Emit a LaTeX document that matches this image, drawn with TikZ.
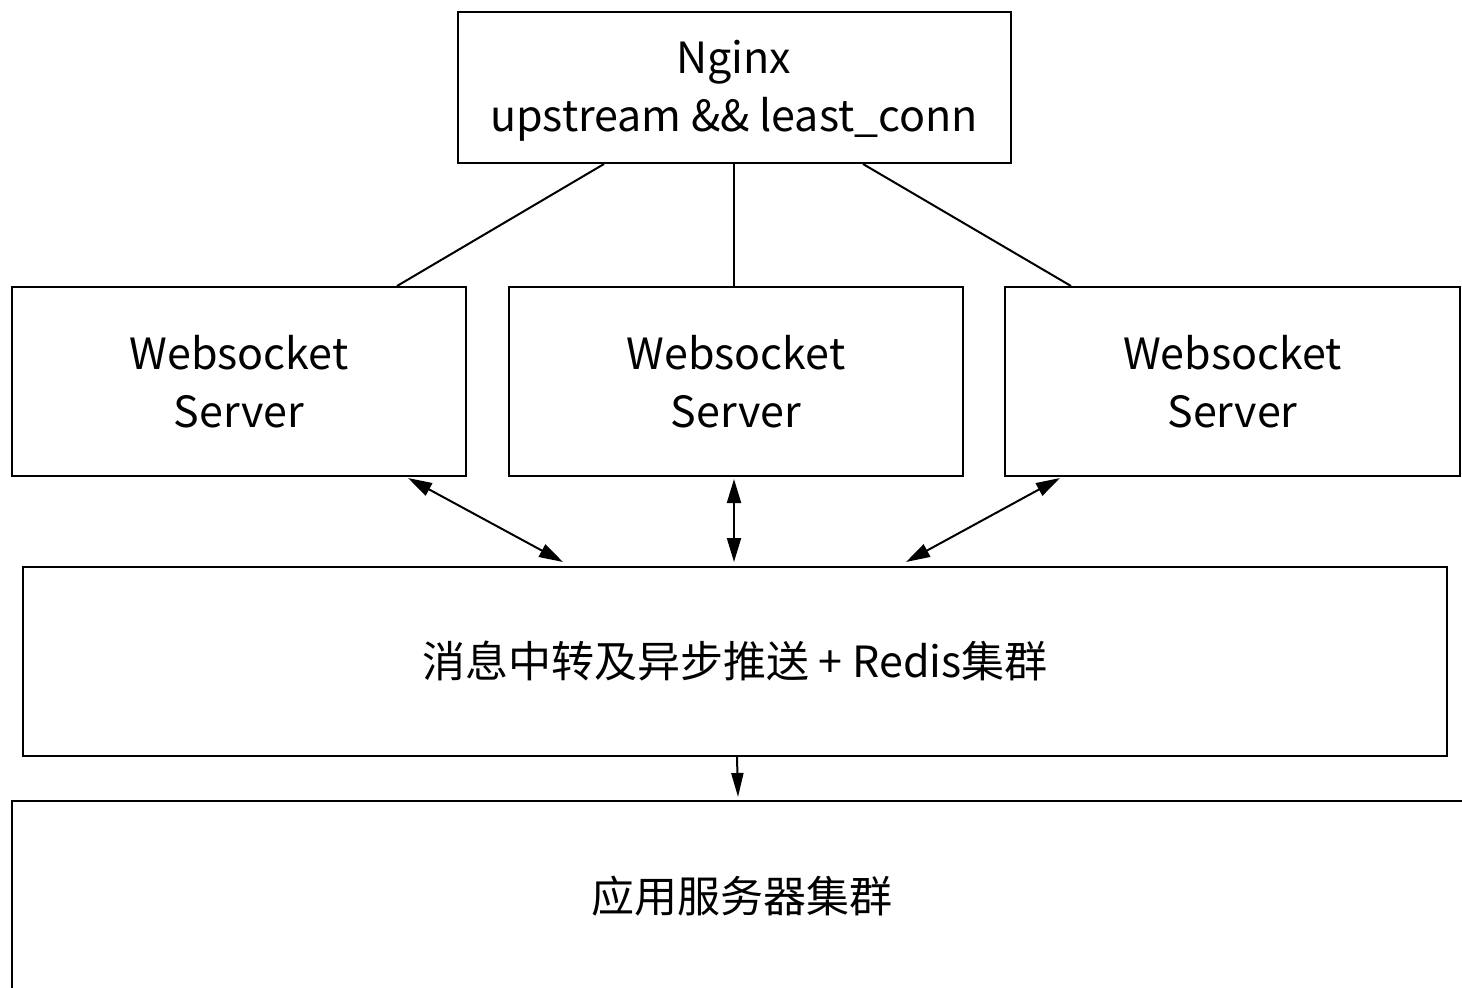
\documentclass[tikz,border=0pt]{standalone}
\usepackage{fontspec}
\setmainfont{Noto Sans CJK SC}
\usetikzlibrary{arrows.meta,calc}
\begin{document}
\begin{tikzpicture}[x=1pt,y=-1pt,
  box/.style={draw,line width=2pt,rectangle,inner sep=0pt,align=center,font=\fontsize{43}{58}\selectfont},
  txt/.style={inner sep=0pt,align=center,font=\fontsize{43}{58}\selectfont},
  link/.style={line width=2pt},
  dbl/.style={line width=2pt,{Triangle[length=24pt,width=14pt]}-{Triangle[length=24pt,width=14pt]}},
  one/.style={line width=2pt,-{Triangle[length=24pt,width=12pt]}}]
\useasboundingbox (0,0) rectangle (1462,988);
\clip (0,0) rectangle (1462,988);
\fill[white] (0,0) rectangle (1462,988);
\node[box,minimum width=553pt,minimum height=151pt] (ngx) at (734.5,87.5) {};
\node[txt] (ngxtext) at (734,91) {Nginx\\upstream \&\& least\_conn};
\node[box,minimum width=454pt,minimum height=189pt] (ws1) at (239,381.5) {Websocket\\Server};
\node[box,minimum width=454pt,minimum height=189pt] (ws2) at (736,381.5) {Websocket\\Server};
\node[box,minimum width=455pt,minimum height=189pt] (ws3) at (1232.5,381.5) {Websocket\\Server};
\node[box,minimum width=1424pt,minimum height=189pt] (msg) at (735,661.5) {消息中转及异步推送 + Redis集群};
\node[box,minimum width=1460pt,minimum height=190pt] (app) at (742,896) {应用服务器集群};
\draw[link] ($(ngx.south)+(-130.5,0)$) -- ($(ws1.north)+(158,0)$);
\draw[link] ($(ngx.south)+(-0.5,0)$) -- ($(ws2.north)+(-2,0)$);
\draw[link] ($(ngx.south)+(128.5,0)$) -- ($(ws3.north)+(-161.5,0)$);
\draw[dbl] ($(ws1.south)+(169,1)$) -- ($(msg.north)+(-172,-4)$);
\draw[dbl] ($(ws2.south)+(-2,2)$) -- ($(msg.north)+(-1,-4)$);
\draw[dbl] ($(ws3.south)+(-172.5,1)$) -- ($(msg.north)+(171,-4)$);
\draw[one] ($(msg.south)+(2,0)$) -- ($(app.north)+(-4,-3)$);
\end{tikzpicture}
\end{document}
